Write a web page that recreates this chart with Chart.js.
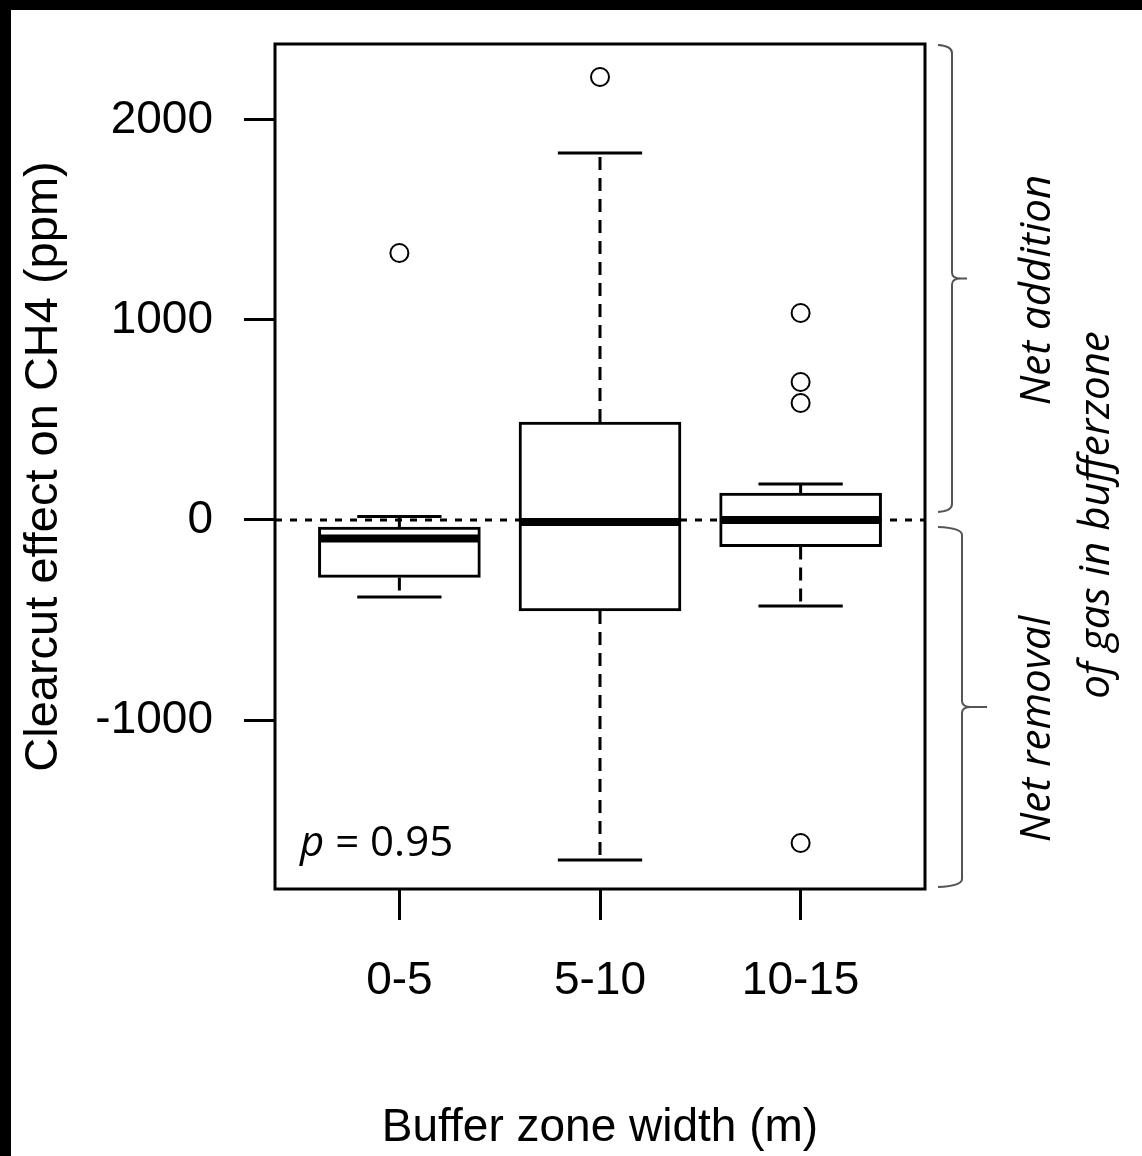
<!DOCTYPE html>
<html lang="en">
<head>
<meta charset="UTF-8">
<title>Clearcut effect on CH4</title>
<script src="https://cdn.jsdelivr.net/npm/chart.js"></script>
<style>
    html, body { margin: 0; padding: 0; background: #000; }
    #wrap {
        position: absolute;
        left: 11px;
        top: 10px;
        width: 1131px;
        height: 1146px;
        background: #fff;
    }
</style>
</head>
<body>
<div id="wrap"><canvas id="boxChart"></canvas></div>
<script>
    // buffer zone classes and box statistics (ppm)
    const categories = ['0-5', '5-10', '10-15'];
    const whiskerLow = [-385, -1700, -430];
    const lowerQuartile = [-287, -455, -133];
    const medians = [-92, -10, 0];
    const upperQuartile = [-35, 490, 135];
    const whiskerHigh = [17, 1835, 180];
    const outliers = [[1335], [2215], [1035, 690, 585, -1615]];
    const yTicks = [-1000, 0, 1000, 2000];
    const yRange = [-1845, 2380];
    const xRange = [0.38, 3.62];
    const pValue = '0.95';

    const axisFont = { family: '"Liberation Sans", Arial, sans-serif', size: 46 };
    const noteFont = '"Open Sans", "Noto Sans", sans-serif';

    const outlierPoints = [];
    outliers.forEach((list, i) => list.forEach(v => outlierPoints.push({ x: i + 1, y: v })));

    function brace(ctx, x0, xv, xTip, yTop, yBot) {
        const yMid = (yTop + yBot) / 2;
        ctx.beginPath();
        ctx.moveTo(x0, yTop);
        ctx.quadraticCurveTo(xv, yTop + 1, xv, yTop + 8);
        ctx.lineTo(xv, yMid - 6);
        ctx.quadraticCurveTo(xv, yMid, xv + 9, yMid);
        ctx.lineTo(xTip, yMid);
        ctx.moveTo(xv + 9, yMid);
        ctx.quadraticCurveTo(xv, yMid, xv, yMid + 6);
        ctx.lineTo(xv, yBot - 8);
        ctx.quadraticCurveTo(xv, yBot - 1, x0, yBot);
        ctx.stroke();
    }

    function rotatedText(ctx, text, x, y, maxWidth) {
        ctx.save();
        ctx.translate(x, y);
        ctx.rotate(-Math.PI / 2);
        ctx.fillText(text, 0, 0, maxWidth);
        ctx.restore();
    }

    const boxPlugin = {
        id: 'boxExtras',
        beforeDatasetsDraw(chart) {
            const { ctx, chartArea, scales: { y } } = chart;
            const y0 = y.getPixelForValue(0);
            ctx.save();
            ctx.strokeStyle = '#000';
            ctx.lineWidth = 3;
            ctx.setLineDash([7, 8]);
            ctx.beginPath();
            ctx.moveTo(chartArea.left, y0);
            ctx.lineTo(chartArea.right, y0);
            ctx.stroke();
            ctx.restore();
        },
        afterDatasetsDraw(chart) {
            const { ctx, chartArea, scales: { x, y } } = chart;
            ctx.save();
            ctx.strokeStyle = '#000';
            ctx.lineWidth = 3;
            categories.forEach((c, i) => {
                const cx = x.getPixelForValue(i + 1);
                const capL = x.getPixelForValue(i + 1 - 0.21);
                const capR = x.getPixelForValue(i + 1 + 0.21);
                // dashed whiskers
                ctx.setLineDash([13, 8]);
                ctx.beginPath();
                ctx.moveTo(cx, y.getPixelForValue(upperQuartile[i]));
                ctx.lineTo(cx, y.getPixelForValue(whiskerHigh[i]));
                ctx.moveTo(cx, y.getPixelForValue(lowerQuartile[i]));
                ctx.lineTo(cx, y.getPixelForValue(whiskerLow[i]));
                ctx.stroke();
                ctx.setLineDash([]);
                // whisker caps
                ctx.beginPath();
                ctx.moveTo(capL, y.getPixelForValue(whiskerHigh[i]));
                ctx.lineTo(capR, y.getPixelForValue(whiskerHigh[i]));
                ctx.moveTo(capL, y.getPixelForValue(whiskerLow[i]));
                ctx.lineTo(capR, y.getPixelForValue(whiskerLow[i]));
                ctx.stroke();
                // median bar
                ctx.lineWidth = 8;
                ctx.beginPath();
                ctx.moveTo(x.getPixelForValue(i + 1 - 0.4), y.getPixelForValue(medians[i]));
                ctx.lineTo(x.getPixelForValue(i + 1 + 0.4), y.getPixelForValue(medians[i]));
                ctx.stroke();
                ctx.lineWidth = 3;
            });

            // plot frame
            ctx.strokeRect(chartArea.left, chartArea.top, chartArea.right - chartArea.left, chartArea.bottom - chartArea.top);

            // p value
            ctx.fillStyle = '#000';
            ctx.textBaseline = 'alphabetic';
            ctx.textAlign = 'left';
            ctx.font = 'italic 42px ' + noteFont;
            const px = chartArea.left + 25;
            const py = chartArea.bottom - 33;
            ctx.fillText('p', px, py);
            const pw = ctx.measureText('p').width;
            ctx.font = '42px ' + noteFont;
            ctx.fillText(' = ' + pValue, px + pw, py);

            // braces on the right
            const y0 = y.getPixelForValue(0);
            const r = chartArea.right;
            ctx.strokeStyle = '#555';
            ctx.lineWidth = 2;
            brace(ctx, r + 13, r + 27, r + 42, chartArea.top + 1, y0 - 8);
            brace(ctx, r + 13, r + 37, r + 62, y0 + 7, chartArea.bottom - 2);

            ctx.textAlign = 'center';
            ctx.font = 'italic 42px ' + noteFont;
            rotatedText(ctx, 'Net addition', r + 125, 280, 240);
            rotatedText(ctx, 'Net removal', r + 125, 719, 238);
            rotatedText(ctx, 'of gas in bufferzone', r + 184, 505, 380);
            ctx.restore();
        }
    };

    new Chart(document.getElementById('boxChart'), {
        type: 'bar',
        data: {
            datasets: [{
                type: 'bar',
                data: categories.map((c, i) => ({ x: i + 1, y: [lowerQuartile[i], upperQuartile[i]] })),
                backgroundColor: '#fff',
                borderColor: '#000',
                borderWidth: 3,
                borderSkipped: false,
                barThickness: 162,
                grouped: false
            }, {
                type: 'scatter',
                data: outlierPoints,
                pointRadius: 9,
                pointBorderWidth: 2,
                pointBorderColor: '#000',
                borderColor: '#000',
                pointBackgroundColor: 'rgba(0,0,0,0)',
                backgroundColor: 'rgba(0,0,0,0)'
            }]
        },
        options: {
            responsive: true,
            maintainAspectRatio: false,
            animation: false,
            layout: { padding: { top: 34, right: 217, left: 0, bottom: 0 } },
            plugins: { legend: { display: false }, tooltip: { enabled: false } },
            scales: {
                x: {
                    type: 'linear',
                    offset: false,
                    min: xRange[0],
                    max: xRange[1],
                    afterBuildTicks: s => { s.ticks = categories.map((c, i) => ({ value: i + 1 })); },
                    afterFit: s => {
                        s.height = 267;
                        s.paddingLeft = 0;
                        s.paddingRight = 0;
                    },
                    ticks: {
                        callback: v => categories[v - 1],
                        font: axisFont,
                        color: '#000',
                        padding: 34,
                        maxRotation: 0,
                        autoSkip: false
                    },
                    grid: { offset: false, drawOnChartArea: false, drawTicks: true, tickLength: 31, tickWidth: 3, tickColor: '#000' },
                    border: { display: false },
                    title: { display: true, text: 'Buffer zone width (m)', font: axisFont, color: '#000', padding: { top: 0, bottom: 0 } }
                },
                y: {
                    min: yRange[0],
                    max: yRange[1],
                    afterBuildTicks: s => { s.ticks = yTicks.map(v => ({ value: v })); },
                    afterFit: s => {
                        s.width = 264;
                        s.paddingTop = 0;
                        s.paddingBottom = 0;
                    },
                    ticks: { font: axisFont, color: '#000', padding: 31, callback: v => String(v) },
                    grid: { drawOnChartArea: false, drawTicks: true, tickLength: 31, tickWidth: 3, tickColor: '#000' },
                    border: { display: false },
                    title: {
                        display: true,
                        text: 'Clearcut effect on CH4 (ppm)',
                        font: { family: axisFont.family, size: 47 },
                        color: '#000',
                        padding: { top: 5, bottom: 0 }
                    }
                }
            }
        },
        plugins: [boxPlugin]
    });
</script>
</body>
</html>
